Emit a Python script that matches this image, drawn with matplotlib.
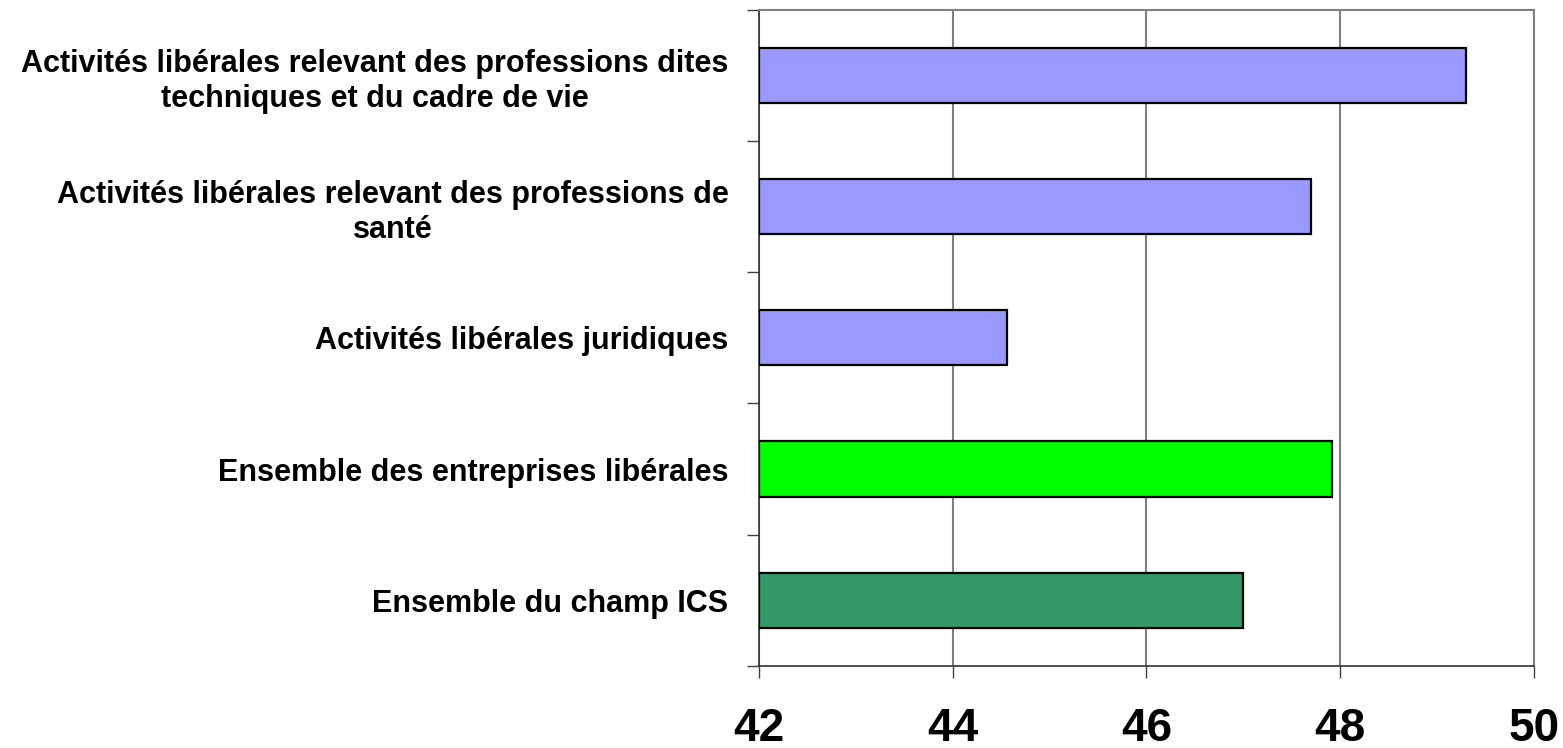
import matplotlib.pyplot as plt
import numpy as np

plt.rcParams['font.family'] = ['Liberation Sans', 'DejaVu Sans']

categories = [
    "Activités libérales relevant des professions dites\ntechniques et du cadre de vie",
    "Activités libérales relevant des professions de\nsanté",
    "Activités libérales juridiques",
    "Ensemble des entreprises libérales",
    "Ensemble du champ ICS",
]
values = [49.3, 47.7, 44.56, 47.92, 47.0]
colors = ["#9999FF", "#9999FF", "#9999FF", "#00FF00", "#339966"]
xticks = [42, 44, 46, 48, 50]

fig = plt.figure(figsize=(15.63, 7.48), dpi=100)
ax = fig.add_axes([0.4856, 0.110, 0.9814 - 0.4856, 0.9866 - 0.110])

y = np.arange(len(categories))
# barh depuis 42 pour que les barres partent de l'axe
ax.barh(y, np.array(values) - 42, left=42, height=0.42, color=colors,
        edgecolor="black", linewidth=1.6, zorder=3)

ax.set_xlim(42, 50)
ax.set_ylim(len(categories) - 0.5, -0.5)
ax.set_xticks(xticks)
ax.set_xticklabels([str(v) for v in xticks], fontsize=33, fontweight="bold")
ax.tick_params(axis="x", direction="out", length=8.6, width=1, color="#404040", pad=21)

ax.set_yticks(y)
ax.set_yticklabels(categories, fontsize=22, fontweight="bold",
                   multialignment="center", linespacing=1.2)
ax.tick_params(axis="y", which="major", length=0, pad=22)
ax.set_yticks(np.arange(-0.5, len(categories)), minor=True)
ax.tick_params(axis="y", which="minor", direction="out", length=8.6, width=1, color="#404040")

ax.grid(axis="x", color="#808080", linewidth=1.5, zorder=0)
ax.set_axisbelow(True)

for side in ["top", "right"]:
    ax.spines[side].set_color("#808080")
    ax.spines[side].set_linewidth(1.5)
for side in ["left", "bottom"]:
    ax.spines[side].set_color("#333333")
    ax.spines[side].set_linewidth(1.2)

fig.savefig("out.png", dpi=100)
